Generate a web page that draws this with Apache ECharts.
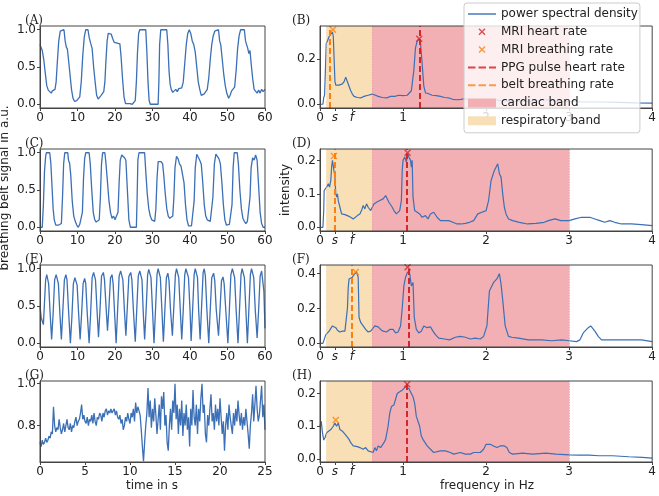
<!DOCTYPE html>
<html>
<head>
<meta charset="utf-8">
<title>belt signals and spectra</title>
<script src="https://cdn.jsdelivr.net/npm/echarts@6/dist/echarts.min.js"></script>
<style>
  html, body { margin: 0; padding: 0; background: #fff; }
  #chart { width: 659px; height: 496px; }
</style>
</head>
<body>
<div id="chart"></div>
<script>
// breathing belt signals, [time in s, signal in a.u.]
var beltA = [[0,0.8],[0.3,0.78],[0.6,0.72],[1.0,0.6],[1.4,0.42],[1.8,0.25],[2.2,0.19],[2.6,0.17],[3.0,0.15],[3.3,0.18],[3.6,0.17],[4.0,0.2],[4.3,0.3],[4.6,0.55],[5.0,0.85],[5.4,0.98],[5.6,1.0],[6.4,1.0],[6.7,0.85],[7.0,0.77],[7.3,0.74],[7.6,0.6],[8.0,0.4],[8.4,0.2],[8.8,0.08],[9.2,0.04],[9.5,0.02],[9.8,0.05],[10.2,0.04],[10.6,0.1],[11.0,0.3],[11.4,0.65],[11.8,0.9],[12.2,1.0],[12.8,1.0],[13.1,0.9],[13.5,0.82],[13.9,0.75],[14.3,0.5],[14.7,0.3],[15.1,0.12],[15.5,0.07],[15.9,0.08],[16.3,0.12],[16.7,0.14],[17.0,0.17],[17.3,0.3],[17.6,0.6],[17.9,0.85],[18.2,0.95],[18.4,0.97],[18.7,0.93],[19.0,0.94],[19.4,0.88],[19.8,0.83],[20.2,0.84],[20.6,0.82],[21.0,0.82],[21.3,0.81],[21.6,0.65],[22.0,0.35],[22.4,0.1],[22.8,0.01],[23.2,0.0],[24.0,0.01],[24.6,0.0],[25.0,0.02],[25.4,0.05],[25.7,0.3],[26.0,0.7],[26.3,0.95],[26.6,1.0],[28.2,1.0],[28.5,0.7],[28.8,0.3],[29.1,0.05],[29.4,0.0],[31.5,0.0],[31.7,0.3],[31.9,0.8],[32.2,1.0],[33.8,1.0],[34.1,0.8],[34.4,0.45],[34.7,0.27],[35.0,0.2],[35.4,0.16],[35.8,0.18],[36.2,0.2],[36.6,0.17],[37.0,0.21],[37.4,0.2],[37.8,0.22],[38.2,0.3],[38.6,0.55],[39.0,0.8],[39.4,0.95],[39.8,1.0],[40.2,0.95],[40.6,0.85],[41.0,0.8],[41.4,0.7],[41.8,0.5],[42.2,0.3],[42.6,0.2],[43.0,0.12],[43.4,0.1],[43.8,0.14],[44.2,0.15],[44.6,0.2],[45.0,0.35],[45.4,0.6],[45.8,0.8],[46.2,0.92],[46.6,0.98],[47.0,1.0],[47.6,1.0],[47.9,0.85],[48.2,0.8],[48.6,0.6],[49.0,0.4],[49.4,0.25],[49.8,0.15],[50.3,0.08],[50.7,0.12],[51.1,0.18],[51.5,0.2],[51.9,0.23],[52.3,0.45],[52.7,0.75],[53.1,0.92],[53.5,1.0],[54.5,1.0],[54.8,0.85],[55.1,0.8],[55.4,0.75],[55.7,0.68],[56.0,0.72],[56.3,0.55],[56.7,0.35],[57.1,0.2],[57.5,0.18],[57.9,0.15],[58.3,0.19],[58.7,0.15],[59.1,0.2],[59.5,0.17],[60,0.2]];

var beltC = [[0,0],[0.6,0.0],[0.9,0.3],[1.2,0.75],[1.5,0.95],[1.7,1.0],[2.6,1.0],[2.9,0.85],[3.2,0.55],[3.5,0.25],[3.8,0.1],[4.2,0.03],[4.6,0.02],[5.0,0.03],[5.4,0.02],[5.7,0.05],[6.0,0.4],[6.3,0.85],[6.6,1.0],[7.4,1.0],[7.6,0.9],[7.9,0.86],[8.2,0.7],[8.6,0.35],[9.0,0.15],[9.4,0.08],[9.8,0.03],[10.2,0.0],[10.6,0.04],[11.0,0.05],[11.3,0.2],[11.6,0.65],[11.9,0.92],[12.2,1.0],[13.1,1.0],[13.4,0.85],[13.8,0.5],[14.2,0.2],[14.6,0.1],[15.0,0.07],[15.4,0.09],[15.8,0.1],[16.1,0.4],[16.4,0.85],[16.7,1.0],[17.3,1.0],[17.6,0.85],[18.0,0.6],[18.4,0.35],[18.8,0.2],[19.2,0.12],[19.6,0.15],[20.0,0.1],[20.4,0.08],[20.8,0.2],[21.1,0.6],[21.4,0.9],[21.8,0.97],[22.2,0.95],[22.6,0.93],[22.9,0.9],[23.3,0.5],[23.7,0.1],[24.1,0.0],[25.7,0.0],[25.9,0.4],[26.1,0.9],[26.4,1.0],[27.9,1.0],[28.2,0.75],[28.6,0.45],[29.0,0.25],[29.4,0.15],[29.8,0.1],[30.2,0.1],[30.6,0.08],[30.9,0.25],[31.2,0.65],[31.5,0.88],[31.9,0.9],[32.3,0.88],[32.7,0.85],[33.0,0.7],[33.4,0.45],[33.8,0.25],[34.2,0.15],[34.6,0.12],[35.0,0.1],[35.4,0.15],[35.7,0.4],[36.0,0.8],[36.4,0.95],[36.8,0.92],[37.2,0.85],[37.6,0.82],[38.0,0.8],[38.4,0.6],[38.8,0.3],[39.2,0.1],[39.6,0.02],[40.0,0.04],[40.4,0.02],[40.8,0.03],[41.1,0.35],[41.4,0.8],[41.8,0.98],[42.2,0.97],[42.6,0.9],[43.0,0.85],[43.4,0.6],[43.8,0.3],[44.2,0.15],[44.6,0.1],[45.0,0.08],[45.4,0.08],[45.8,0.1],[46.1,0.4],[46.5,0.85],[46.9,0.98],[47.3,0.97],[47.7,0.92],[48.1,0.85],[48.5,0.6],[48.9,0.3],[49.3,0.1],[49.7,0.03],[50.1,0.02],[50.5,0.04],[50.9,0.03],[51.2,0.3],[51.5,0.8],[51.8,1.0],[52.6,1.0],[52.9,0.85],[53.3,0.5],[53.7,0.25],[54.1,0.12],[54.5,0.08],[54.9,0.05],[55.3,0.08],[55.7,0.1],[56.0,0.4],[56.3,0.8],[56.7,0.93],[57.1,0.9],[57.5,0.97],[57.9,0.9],[58.3,0.55],[58.7,0.2],[59.1,0.05],[59.5,0.0],[60,0.0]];

var beltE = [[0,0.5],[0.3,0.35],[0.7,0.28],[0.9,0.25],[1.2,0.55],[1.5,0.85],[1.8,0.92],[2.0,0.93],[2.3,0.8],[2.7,0.4],[3.1,0.05],
  [3.5,0.4],[3.9,0.85],[4.3,0.92],[4.6,0.93],[4.9,0.8],[5.3,0.4],[5.7,0.05],
  [6.1,0.45],[6.5,0.85],[6.9,0.92],[7.2,0.85],[7.6,0.45],[8.1,0.0],
  [8.5,0.35],[8.9,0.8],[9.3,0.88],[9.6,0.9],[9.9,0.78],[10.3,0.4],[10.7,0.05],
  [11.1,0.4],[11.5,0.8],[11.9,0.87],[12.2,0.8],[12.6,0.4],[13.1,0.0],
  [13.5,0.4],[13.9,0.88],[14.3,0.95],[14.5,0.96],[14.8,0.85],[15.2,0.45],[15.6,0.08],
  [16.0,0.45],[16.4,0.9],[16.9,0.95],[17.2,0.85],[17.6,0.5],[18.0,0.17],
  [18.4,0.5],[18.8,0.88],[19.2,0.92],[19.5,0.8],[19.9,0.4],[20.3,0.0],
  [20.7,0.45],[21.1,0.9],[21.5,0.97],[21.8,0.98],[22.1,0.85],[22.5,0.45],[22.9,0.1],
  [23.3,0.5],[23.7,0.9],[24.2,0.95],[24.5,0.85],[24.9,0.45],[25.4,0.02],
  [25.8,0.45],[26.2,0.9],[26.6,0.97],[26.9,0.98],[27.2,0.85],[27.5,0.45],[27.9,0.05],
  [28.3,0.45],[28.7,0.92],[29.0,0.99],[29.3,1.0],[29.6,0.88],[30.0,0.45],[30.4,0.0],
  [30.8,0.45],[31.2,0.92],[31.5,1.0],[31.8,1.0],[32.1,0.88],[32.5,0.45],[32.9,0.02],
  [33.3,0.45],[33.7,0.88],[34.1,0.94],[34.4,0.84],[34.8,0.45],[35.3,0.1],
  [35.7,0.5],[36.1,0.92],[36.4,1.0],[36.7,1.0],[37.0,0.88],[37.4,0.45],[37.8,0.05],
  [38.2,0.45],[38.6,0.92],[38.9,1.0],[39.3,1.0],[39.6,0.88],[40.0,0.45],[40.3,0.03],
  [40.7,0.45],[41.1,0.92],[41.4,1.0],[41.7,1.0],[42.0,0.88],[42.3,0.45],[42.7,0.05],
  [43.1,0.5],[43.5,0.95],[43.8,1.0],[44.1,0.9],[44.5,0.45],[45.0,0.0],
  [45.4,0.45],[45.8,0.88],[46.3,0.94],[46.6,0.84],[47.0,0.45],[47.6,0.1],
  [48.0,0.45],[48.4,0.84],[48.8,0.89],[49.1,0.8],[49.6,0.4],[50.1,0.0],
  [50.5,0.45],[50.9,0.92],[51.3,1.0],[51.6,1.0],[51.9,0.88],[52.3,0.45],[52.8,0.0],
  [53.2,0.45],[53.6,0.92],[53.9,1.0],[54.2,1.0],[54.5,0.88],[54.9,0.45],[55.3,0.0],
  [55.7,0.45],[56.1,0.92],[56.4,1.0],[56.7,1.0],[57.0,0.88],[57.4,0.45],[57.9,0.07],
  [58.3,0.45],[58.7,0.9],[59.1,0.97],[59.4,0.98],[59.7,0.7],[60,0.2]];

// panel G is sampled every gStep seconds
var gStep = 0.125;
var beltG = [
  0.72,0.70,0.73,0.71,0.72,0.74,0.72,0.73,
  0.75,0.74,0.77,0.76,0.89,0.80,0.77,0.79,
  0.78,0.83,0.79,0.76,0.78,0.81,0.77,0.80,
  0.83,0.79,0.78,0.81,0.77,0.80,0.79,0.82,
  0.84,0.80,0.82,0.83,0.86,0.90,0.83,0.85,
  0.82,0.81,0.84,0.80,0.83,0.82,0.85,0.81,
  0.86,0.82,0.80,0.84,0.83,0.86,0.85,0.82,
  0.86,0.84,0.87,0.88,0.85,0.87,0.86,0.88,
  0.86,0.87,0.88,0.85,0.87,0.84,0.83,0.85,
  0.81,0.83,0.78,0.80,0.84,0.82,0.86,0.83,
  0.81,0.86,0.84,0.88,0.82,0.91,0.86,0.89,
  0.87,0.85,0.78,0.70,0.63,0.72,0.80,0.86,
  0.98,0.84,0.92,0.79,0.88,0.82,0.93,0.85,
  0.76,0.83,0.90,0.78,0.94,0.88,0.96,0.80,
  0.85,0.72,0.68,0.80,0.88,0.78,0.92,0.86,
  1.00,0.83,0.90,0.76,0.88,0.80,0.92,0.75,
  0.86,0.80,0.90,0.78,0.84,0.70,0.88,0.80,
  0.97,0.84,0.80,0.90,0.76,0.88,0.82,0.93,
  1.00,0.86,0.90,0.76,0.72,0.85,0.80,0.88,
  0.95,0.82,0.86,0.78,0.90,0.82,0.88,0.80,
  0.93,0.84,0.76,0.82,0.68,0.80,0.86,0.78,
  0.90,0.84,0.80,0.76,0.86,0.80,0.88,0.82,
  0.92,0.85,0.80,0.86,0.78,0.84,0.80,0.88,
  0.88,0.76,0.69,0.80,0.86,0.95,0.82,0.90,
  0.99,0.88,0.82,0.85,0.92,0.99,0.84,0.90,
  0.78];

// power spectral densities, [frequency in Hz, intensity]
var psdB = [[0,0],[0.035,0],[0.045,0.03],[0.055,0.04],[0.065,0.15],[0.075,0.27],[0.09,0.28],[0.11,0.3],[0.13,0.31],[0.15,0.32],[0.16,0.3],[0.17,0.2],[0.18,0.1],[0.19,0.085],[0.21,0.08],[0.23,0.085],[0.25,0.08],[0.27,0.09],[0.29,0.1],[0.31,0.12],[0.33,0.1],[0.35,0.08],[0.37,0.06],[0.39,0.045],[0.41,0.035],[0.45,0.03],[0.49,0.028],[0.53,0.035],[0.55,0.03],[0.58,0.04],[0.6,0.035],[0.63,0.045],[0.65,0.05],[0.67,0.04],[0.7,0.035],[0.75,0.03],[0.8,0.028],[0.85,0.035],[0.9,0.035],[0.95,0.04],[1.0,0.038],[1.05,0.04],[1.1,0.06],[1.13,0.15],[1.15,0.25],[1.17,0.28],[1.19,0.29],[1.21,0.27],[1.23,0.18],[1.25,0.08],[1.27,0.05],[1.3,0.048],[1.35,0.04],[1.4,0.038],[1.45,0.035],[1.5,0.03],[1.55,0.028],[1.6,0.022],[1.65,0.02],[1.7,0.022],[1.75,0.025],[1.8,0.02],[1.9,0.02],[2.0,0.018],[2.1,0.02],[2.2,0.015],[2.3,0.012],[2.4,0.015],[2.5,0.012],[2.6,0.015],[2.7,0.02],[2.8,0.015],[2.9,0.012],[3.0,0.012],[3.2,0.01],[3.4,0.01],[3.6,0.008],[3.8,0.006],[4.0,0.005]];

var psdD = [[0,0],[0.035,0],[0.045,0.05],[0.05,0.11],[0.065,0.11],[0.08,0.12],[0.1,0.13],[0.115,0.12],[0.13,0.14],[0.14,0.18],[0.15,0.2],[0.16,0.195],[0.17,0.2],[0.18,0.15],[0.19,0.1],[0.2,0.09],[0.21,0.1],[0.22,0.08],[0.24,0.06],[0.26,0.04],[0.28,0.035],[0.3,0.038],[0.33,0.035],[0.35,0.04],[0.37,0.03],[0.4,0.025],[0.42,0.025],[0.45,0.035],[0.48,0.04],[0.5,0.05],[0.52,0.065],[0.54,0.055],[0.56,0.07],[0.58,0.06],[0.61,0.05],[0.63,0.045],[0.65,0.07],[0.68,0.075],[0.72,0.08],[0.76,0.085],[0.79,0.095],[0.81,0.09],[0.83,0.075],[0.85,0.08],[0.87,0.06],[0.89,0.05],[0.92,0.04],[0.94,0.035],[0.96,0.05],[0.98,0.08],[0.99,0.17],[1.0,0.2],[1.02,0.21],[1.04,0.195],[1.055,0.22],[1.07,0.21],[1.09,0.2],[1.1,0.18],[1.11,0.2],[1.12,0.09],[1.14,0.05],[1.17,0.045],[1.2,0.04],[1.23,0.03],[1.27,0.035],[1.3,0.025],[1.33,0.04],[1.37,0.045],[1.41,0.03],[1.45,0.02],[1.5,0.02],[1.55,0.02],[1.6,0.015],[1.65,0.01],[1.7,0.01],[1.75,0.012],[1.8,0.015],[1.85,0.02],[1.9,0.04],[1.95,0.045],[2.0,0.05],[2.03,0.08],[2.06,0.14],[2.1,0.17],[2.14,0.19],[2.16,0.16],[2.18,0.15],[2.2,0.1],[2.22,0.06],[2.24,0.04],[2.27,0.025],[2.32,0.02],[2.4,0.015],[2.5,0.01],[2.6,0.012],[2.7,0.015],[2.75,0.02],[2.83,0.025],[2.9,0.02],[3.0,0.02],[3.07,0.025],[3.15,0.03],[3.25,0.03],[3.31,0.025],[3.37,0.02],[3.43,0.015],[3.49,0.02],[3.55,0.015],[3.63,0.01],[3.75,0.01],[3.87,0.008],[4.0,0.005]];

var psdF = [[0,0],[0.035,0],[0.05,0.01],[0.07,0.05],[0.09,0.06],[0.11,0.07],[0.13,0.08],[0.15,0.1],[0.17,0.11],[0.19,0.09],[0.21,0.075],[0.24,0.065],[0.27,0.07],[0.3,0.07],[0.32,0.06],[0.33,0.2],[0.34,0.32],[0.35,0.37],[0.37,0.38],[0.39,0.38],[0.41,0.395],[0.43,0.4],[0.44,0.41],[0.46,0.38],[0.47,0.15],[0.49,0.12],[0.52,0.1],[0.55,0.08],[0.58,0.065],[0.61,0.07],[0.63,0.08],[0.66,0.1],[0.7,0.095],[0.73,0.08],[0.76,0.07],[0.8,0.065],[0.84,0.08],[0.86,0.09],[0.88,0.08],[0.91,0.06],[0.94,0.065],[0.97,0.1],[0.99,0.2],[1.01,0.33],[1.03,0.38],[1.055,0.41],[1.08,0.4],[1.1,0.33],[1.12,0.35],[1.135,0.15],[1.16,0.08],[1.19,0.06],[1.22,0.07],[1.25,0.1],[1.29,0.09],[1.33,0.095],[1.36,0.07],[1.39,0.05],[1.43,0.03],[1.5,0.025],[1.56,0.02],[1.63,0.035],[1.69,0.04],[1.75,0.035],[1.81,0.025],[1.87,0.03],[1.93,0.025],[1.97,0.04],[2.01,0.1],[2.04,0.3],[2.09,0.35],[2.13,0.37],[2.16,0.4],[2.18,0.34],[2.2,0.25],[2.23,0.1],[2.27,0.04],[2.31,0.035],[2.39,0.03],[2.51,0.02],[2.67,0.02],[2.79,0.015],[2.91,0.02],[3.0,0.015],[3.09,0.01],[3.13,0.02],[3.17,0.06],[3.23,0.09],[3.26,0.1],[3.31,0.07],[3.35,0.04],[3.39,0.02],[3.5,0.02],[3.7,0.02],[3.87,0.02],[4.0,0.01]];

var psdH = [[0,0.1],[0.015,0.115],[0.03,0.08],[0.045,0.058],[0.06,0.065],[0.08,0.08],[0.1,0.085],[0.13,0.09],[0.16,0.1],[0.18,0.11],[0.2,0.1],[0.22,0.11],[0.24,0.09],[0.27,0.085],[0.29,0.08],[0.32,0.07],[0.35,0.06],[0.37,0.05],[0.4,0.04],[0.45,0.038],[0.48,0.035],[0.52,0.03],[0.55,0.035],[0.58,0.025],[0.6,0.03],[0.64,0.02],[0.66,0.035],[0.68,0.025],[0.7,0.04],[0.73,0.035],[0.77,0.05],[0.79,0.06],[0.82,0.1],[0.84,0.14],[0.86,0.16],[0.89,0.165],[0.91,0.16],[0.93,0.2],[0.96,0.205],[0.99,0.21],[1.01,0.215],[1.03,0.22],[1.05,0.225],[1.07,0.215],[1.1,0.2],[1.12,0.19],[1.14,0.17],[1.16,0.13],[1.2,0.1],[1.22,0.07],[1.24,0.06],[1.29,0.04],[1.33,0.03],[1.37,0.02],[1.45,0.025],[1.51,0.025],[1.57,0.02],[1.61,0.015],[1.69,0.02],[1.75,0.015],[1.77,0.01],[1.81,0.015],[1.85,0.02],[1.93,0.02],[1.97,0.03],[2.0,0.045],[2.05,0.045],[2.09,0.04],[2.13,0.035],[2.17,0.04],[2.22,0.04],[2.25,0.035],[2.28,0.02],[2.32,0.015],[2.44,0.018],[2.56,0.015],[2.72,0.018],[2.84,0.015],[3.0,0.013],[3.12,0.012],[3.24,0.012],[3.36,0.01],[3.52,0.01],[3.72,0.007],[3.88,0.005],[4.0,0.003]];

// rates per spectrum panel (B, D, F, H)
var mriHeart = [[1.195, 0.29], [1.055, 0.223], [1.055, 0.437], [1.05, 0.228]];
var mriBreath = [[0.156, 0.33], [0.168, 0.213], [0.43, 0.41], [0.19, 0.119]];
var ppgHeart = [1.195, 1.055, 1.075, 1.04];
var beltBreath = [0.124, 0.18, 0.384, null];

var respBand = [0.08, 0.63];
var cardiacBand = [0.63, 3.0];

var freqTicks = [0, 0.18, 0.385, 1, 2, 3, 4];
var freqTickLabels = ['0', 's', 'f', '1', '2', '3', '4'];

// y ranges and ticks, panels A..H
var yRanges = [[-0.05, 1.05], [-0.0165, 0.3465], [-0.05, 1.05], [-0.011, 0.234],
               [-0.05, 1.05], [-0.021, 0.45], [0.626, 1.013], [-0.009, 0.238]];
var yTicks = [[0, 0.5, 1], [0, 0.2], [0, 0.5, 1], [0, 0.1, 0.2],
              [0, 0.5, 1], [0, 0.2, 0.4], [0.8, 1.0], [0, 0.1, 0.2]];
var panelLabels = ['(A)', '(B)', '(C)', '(D)', '(E)', '(F)', '(G)', '(H)'];

var BLUE = '#3b6fb6', RED = '#d62728', ORANGE = '#ff7f0e';
var FONT = 'DejaVu Sans';
var rowTops = [26, 149, 265, 381];
var rowHeights = [82, 82, 82, 81];

var xSym = 'path://M0,1.4L1.4,0L5,3.6L8.6,0L10,1.4L6.4,5L10,8.6L8.6,10L5,6.4L1.4,10L0,8.6L3.6,5Z';
var iconLine = 'path://M0,0M28,14M0,6.3h28v1.4h-28z';
var iconCross = 'path://M0,0M28,14M10.5,4.5L11.5,3.5L14,6L16.5,3.5L17.5,4.5L15,7L17.5,9.5L16.5,10.5L14,8L11.5,10.5L10.5,9.5L13,7Z';
var iconDash = 'path://M0,0M28,14M0,6h7.5v2h-7.5zM10.5,6h7.5v2h-7.5zM21,6h7v2h-7z';
var iconPatch = 'path://M0,0M28,14M0,2.5h28v9h-28z';

var grids = [], xAxes = [], yAxes = [], series = [], graphics = [];

function baseAxis() {
    return {
        type: 'value',
        z: 10,
        axisLine: { show: true, onZero: false, lineStyle: { color: '#444', width: 1 } },
        axisTick: { show: true, length: 3, lineStyle: { color: '#444' } },
        axisLabel: { fontFamily: FONT, fontSize: 12, color: '#222', margin: 4 },
        splitLine: { show: false }
    };
}

for (var p = 0; p < 8; p++) {
    var row = Math.floor(p / 2), right = p % 2 === 1;
    grids.push({
        left: right ? 320 : 40, top: rowTops[row],
        width: right ? 334 : 225, height: rowHeights[row],
        show: true, z: 10, borderColor: '#444', borderWidth: 1, backgroundColor: 'transparent'
    });

    var xa = baseAxis();
    xa.gridIndex = p;
    if (right) {
        xa.min = 0; xa.max = 4;
        xa.axisLabel.customValues = freqTicks;
        xa.axisTick.customValues = freqTicks;
        xa.axisLabel.formatter = function (v) {
            var i = freqTicks.indexOf(v);
            var t = i >= 0 ? freqTickLabels[i] : String(v);
            return (t === 's' || t === 'f') ? '{it|' + t + '}' : t;
        };
        xa.axisLabel.rich = { it: { fontStyle: 'italic', fontFamily: FONT, fontSize: 12, color: '#222' } };
    } else {
        xa.min = 0;
        xa.max = row === 3 ? 25 : 60;
        xa.interval = row === 3 ? 5 : 10;
    }
    xAxes.push(xa);

    var ya = baseAxis();
    ya.gridIndex = p;
    ya.min = yRanges[p][0];
    ya.max = yRanges[p][1];
    ya.axisLabel.customValues = yTicks[p];
    ya.axisTick.customValues = yTicks[p];
    ya.axisLabel.formatter = function (v) { return v.toFixed(1); };
    yAxes.push(ya);

    graphics.push({
        type: 'text', x: right ? 292 : 25, y: rowTops[row] - 5, z: 20,
        style: { text: panelLabels[p], font: '12px "DejaVu Serif"', fill: '#222',
                 align: 'left', verticalAlign: 'middle' }
    });
}

// breathing belt signals
var gPairs = [];
for (var i = 0; i < beltG.length; i++) gPairs.push([i * gStep, beltG[i]]);
var beltSets = [beltA, beltC, beltE, gPairs];
beltSets.forEach(function (d, r) {
    series.push({
        type: 'line', name: 'belt signal', xAxisIndex: 2 * r, yAxisIndex: 2 * r,
        data: d, showSymbol: false, lineStyle: { color: BLUE, width: 1.3 }, z: 3
    });
});

// spectra with bands and rates
var psdSets = [psdB, psdD, psdF, psdH];
psdSets.forEach(function (d, r) {
    var k = 2 * r + 1;
    series.push({
        type: 'line', name: 'respiratory band', xAxisIndex: k, yAxisIndex: k, data: [], z: 1,
        color: '#f8dfb6',
        markArea: { silent: true, itemStyle: { color: '#f8dfb6' },
            data: [[{ xAxis: respBand[0] }, { xAxis: respBand[1] }]] },
        markLine: { silent: true, symbol: ['none', 'none'], label: { show: false },
            lineStyle: { type: 'dotted', color: '#f1c98a', width: 0.8 },
            data: [{ xAxis: respBand[0] }] }
    });
    series.push({
        type: 'line', name: 'cardiac band', xAxisIndex: k, yAxisIndex: k, data: [], z: 1,
        color: '#f2b0b4',
        markArea: { silent: true, itemStyle: { color: '#f2b0b4' },
            data: [[{ xAxis: cardiacBand[0] }, { xAxis: cardiacBand[1] }]] },
        markLine: { silent: true, symbol: ['none', 'none'], label: { show: false },
            lineStyle: { type: 'dotted', color: '#e6868b', width: 0.8 },
            data: [{ xAxis: cardiacBand[0] }, { xAxis: cardiacBand[1] }] }
    });
    series.push({
        type: 'line', name: 'power spectral density', xAxisIndex: k, yAxisIndex: k,
        data: d, showSymbol: false, color: BLUE, lineStyle: { color: BLUE, width: 1.2 }, z: 3
    });
    series.push({
        type: 'line', name: 'PPG pulse heart rate', xAxisIndex: k, yAxisIndex: k, data: [], z: 4,
        color: RED,
        markLine: { silent: true, symbol: ['none', 'none'], label: { show: false },
            lineStyle: { type: [6, 3], color: RED, width: 2 },
            data: [{ xAxis: ppgHeart[r] }] }
    });
    if (beltBreath[r] !== null) {
        series.push({
            type: 'line', name: 'belt breathing rate', xAxisIndex: k, yAxisIndex: k, data: [], z: 4,
            color: ORANGE,
            markLine: { silent: true, symbol: ['none', 'none'], label: { show: false },
                lineStyle: { type: [6, 3], color: ORANGE, width: 2 },
                data: [{ xAxis: beltBreath[r] }] }
        });
    }
    series.push({
        type: 'scatter', name: 'MRI heart rate', xAxisIndex: k, yAxisIndex: k,
        data: [mriHeart[r]], symbol: xSym, symbolSize: 7, itemStyle: { color: RED }, z: 5
    });
    series.push({
        type: 'scatter', name: 'MRI breathing rate', xAxisIndex: k, yAxisIndex: k,
        data: [mriBreath[r]], symbol: xSym, symbolSize: 7, itemStyle: { color: ORANGE }, z: 5
    });
});

graphics.push(
    { type: 'text', x: 5, y: 188, rotation: Math.PI / 2, z: 20,
      style: { text: 'breathing belt signal in a.u.', font: '12px "DejaVu Sans"', fill: '#222',
               align: 'center', verticalAlign: 'middle' } },
    { type: 'text', x: 286, y: 190, rotation: Math.PI / 2, z: 20,
      style: { text: 'intensity', font: '12px "DejaVu Sans"', fill: '#222',
               align: 'center', verticalAlign: 'middle' } },
    { type: 'text', x: 152, y: 486, z: 20,
      style: { text: 'time in s', font: '12px "DejaVu Sans"', fill: '#222',
               align: 'center', verticalAlign: 'middle' } },
    { type: 'text', x: 487, y: 486, z: 20,
      style: { text: 'frequency in Hz', font: '12px "DejaVu Sans"', fill: '#222',
               align: 'center', verticalAlign: 'middle' } }
);

var chart = echarts.init(document.getElementById('chart'), null, { renderer: 'canvas' });
chart.setOption({
    animation: false,
    backgroundColor: '#fff',
    grid: grids,
    xAxis: xAxes,
    yAxis: yAxes,
    legend: {
        orient: 'vertical', left: 464, top: 3, z: 20,
        padding: [4, 2, 5, 4], itemWidth: 28, itemHeight: 14, itemGap: 3.8,
        backgroundColor: 'rgba(255,255,255,0.8)', borderColor: '#cccccc', borderWidth: 1, borderRadius: 3,
        selectedMode: false,
        itemStyle: { borderWidth: 0 },
        textStyle: { fontFamily: FONT, fontSize: 12, color: '#222' },
        data: [
            { name: 'power spectral density', icon: iconLine, itemStyle: { color: BLUE, borderWidth: 0 } },
            { name: 'MRI heart rate', icon: iconCross, itemStyle: { color: RED, borderWidth: 0 } },
            { name: 'MRI breathing rate', icon: iconCross, itemStyle: { color: ORANGE, borderWidth: 0 } },
            { name: 'PPG pulse heart rate', icon: iconDash, itemStyle: { color: '#dd4448', borderWidth: 0 } },
            { name: 'belt breathing rate', icon: iconDash, itemStyle: { color: '#fb9a48', borderWidth: 0 } },
            { name: 'cardiac band', icon: iconPatch, itemStyle: { color: '#f2b0b4', borderWidth: 0 } },
            { name: 'respiratory band', icon: iconPatch, itemStyle: { color: '#f8dfb6', borderWidth: 0 } }
        ]
    },
    graphic: graphics,
    series: series
});
</script>
</body>
</html>
